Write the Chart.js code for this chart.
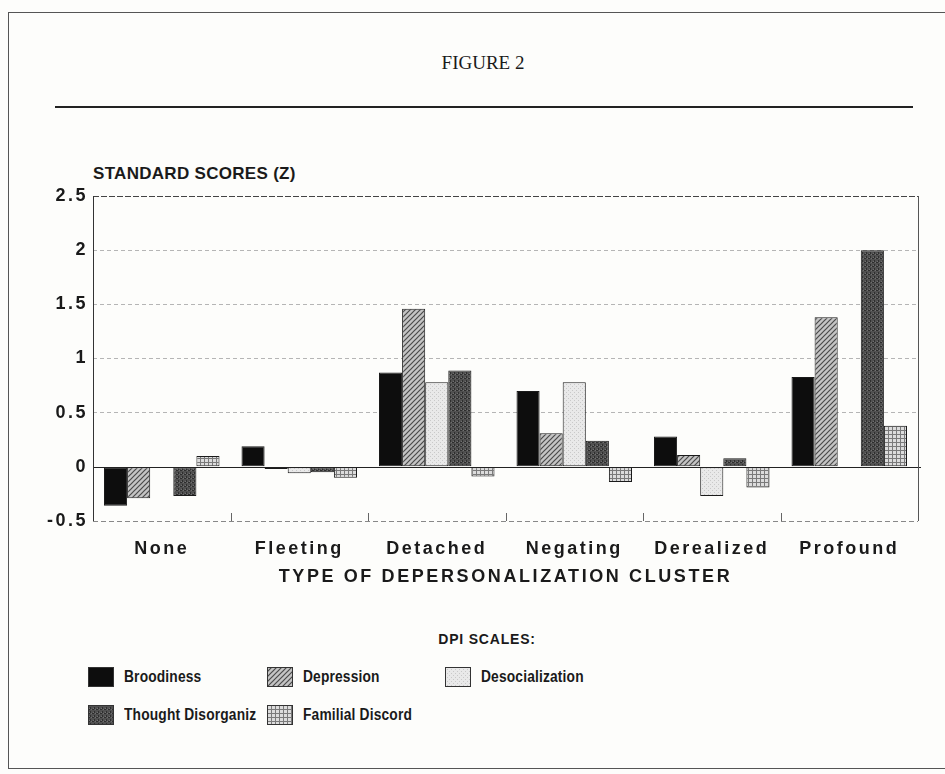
<!DOCTYPE html>
<html>
<head>
<meta charset="utf-8">
<script src="https://cdn.jsdelivr.net/npm/chart.js@4"></script>
<style>
  body { margin: 0; background: #fdfdfb; }
  #page { position: relative; width: 945px; height: 774px; overflow: hidden; font-family: "Liberation Sans", Arial, sans-serif; color: #1a1a1a; }
  .rule { position: absolute; background: #555; }
  #figTitle { position: absolute; top: 52px; left: 0; width: 966px; text-align: center; font-family: "Liberation Serif", "DejaVu Serif", serif; font-size: 19px; }
  #yTitle { position: absolute; top: 164px; left: 93px; font-size: 17px; font-weight: bold; letter-spacing: 0.3px; }
  #xTitle { position: absolute; top: 566px; left: 93px; width: 825px; text-align: center; font-size: 18px; font-weight: bold; letter-spacing: 2.6px; }
  #chartBox { position: absolute; left: 0; top: 150px; width: 945px; height: 450px; }
  #legTitle { position: absolute; top: 631px; left: 0; width: 974px; text-align: center; font-size: 14px; font-weight: bold; letter-spacing: 0.8px; }
  .leg { position: absolute; display: flex; align-items: center; font-size: 16px; font-weight: bold; letter-spacing: 0.2px; white-space: nowrap; }
  .leg canvas { width: 26px; height: 20px; margin-right: 10px; }
  .leg span { display: inline-block; transform: scaleX(0.86); transform-origin: left center; }
</style>
</head>
<body>
<div id="page">
  <div class="rule" style="left:8px; top:12px; width:940px; height:1px;"></div>
  <div class="rule" style="left:8px; top:12px; width:1px; height:757px;"></div>
  <div class="rule" style="left:8px; top:768px; width:940px; height:1px;"></div>
  <div id="figTitle">FIGURE 2</div>
  <div class="rule" style="left:55px; top:106px; width:858px; height:2px; background:#222;"></div>
  <div id="yTitle">STANDARD SCORES (Z)</div>
  <div id="chartBox"><canvas id="chart"></canvas></div>
  <div id="xTitle">TYPE OF DEPERSONALIZATION CLUSTER</div>
  <div id="legTitle">DPI SCALES:</div>
  <div id="legend"></div>
</div>
<script>
var clusters = ['None', 'Fleeting', 'Detached', 'Negating', 'Derealized', 'Profound'];
var scaleNames = ['Broodiness', 'Depression', 'Desocialization', 'Thought Disorganiz', 'Familial Discord'];

var broodiness      = [-0.36,  0.19, 0.87, 0.70,  0.28, 0.83];
var depression      = [-0.29, -0.02, 1.46, 0.31,  0.11, 1.38];
var desocialization = [ 0.00, -0.06, 0.78, 0.78, -0.27, 0.00];
var thoughtDisorg   = [-0.27, -0.05, 0.89, 0.24,  0.08, 2.00];
var familialDiscord = [ 0.10, -0.10, -0.09, -0.14, -0.19, 0.38];

var yTicks = [-0.5, 0, 0.5, 1, 1.5, 2, 2.5];

// little fill patterns to mimic the printed shadings
function makePattern(size, paint) {
  var c = document.createElement('canvas');
  c.width = size; c.height = size;
  var g = c.getContext('2d');
  paint(g, size);
  return g.createPattern(c, 'repeat');
}

var fills = [
  '#0d0d0d',
  makePattern(5, function (g, s) {
    g.fillStyle = '#c4c4c4'; g.fillRect(0, 0, s, s);
    g.strokeStyle = '#4a4a4a'; g.lineWidth = 1.2;
    g.beginPath(); g.moveTo(0, s); g.lineTo(s, 0); g.moveTo(-1, 1); g.lineTo(1, -1); g.moveTo(s - 1, s + 1); g.lineTo(s + 1, s - 1); g.stroke();
  }),
  makePattern(4, function (g, s) {
    g.fillStyle = '#e9e9e9'; g.fillRect(0, 0, s, s);
    g.fillStyle = '#c9c9c9'; g.fillRect(0, 0, 1, 1); g.fillRect(2, 2, 1, 1);
  }),
  makePattern(4, function (g, s) {
    g.fillStyle = '#505050'; g.fillRect(0, 0, s, s);
    g.fillStyle = '#2e2e2e'; g.fillRect(0, 0, 2, 1); g.fillRect(2, 2, 1, 2);
    g.fillStyle = '#707070'; g.fillRect(3, 0, 1, 1); g.fillRect(1, 3, 1, 1);
  }),
  makePattern(4, function (g, s) {
    g.fillStyle = '#dcdcdc'; g.fillRect(0, 0, s, s);
    g.fillStyle = '#7a7a7a'; g.fillRect(0, 0, s, 1); g.fillRect(0, 0, 1, s);
  })
];

var seriesData = [broodiness, depression, desocialization, thoughtDisorg, familialDiscord];

var datasets = scaleNames.map(function (name, i) {
  return {
    label: name,
    data: seriesData[i],
    backgroundColor: fills[i],
    borderColor: '#1a1a1a',
    borderWidth: 1,
    borderSkipped: false,
    categoryPercentage: 0.84,
    barPercentage: 1.0
  };
});

// frame, zero line and the little category ticks on the bottom axis
var framePlugin = {
  id: 'frame',
  beforeDraw: function (chart) {
    chart.ctx.letterSpacing = '2.5px';
  },
  afterDraw: function (chart) {
    var ctx = chart.ctx, a = chart.chartArea, x = chart.scales.x, y = chart.scales.y;
    ctx.save();
    ctx.letterSpacing = '0px';
    ctx.lineWidth = 1;
    // top line
    ctx.strokeStyle = '#444';
    ctx.setLineDash([6, 2]);
    ctx.beginPath(); ctx.moveTo(a.left, y.getPixelForValue(2.5) + 0.5); ctx.lineTo(a.right, y.getPixelForValue(2.5) + 0.5); ctx.stroke();
    // bottom line
    ctx.strokeStyle = '#888';
    ctx.setLineDash([5, 3]);
    ctx.beginPath(); ctx.moveTo(a.left, a.bottom + 0.5); ctx.lineTo(a.right, a.bottom + 0.5); ctx.stroke();
    ctx.setLineDash([]);
    // zero line
    ctx.strokeStyle = '#222';
    var z = Math.round(y.getPixelForValue(0)) + 0.5;
    ctx.beginPath(); ctx.moveTo(a.left, z); ctx.lineTo(a.right + 3, z); ctx.stroke();
    // left and right frame
    ctx.strokeStyle = '#333';
    ctx.beginPath(); ctx.moveTo(a.left + 0.5, a.top); ctx.lineTo(a.left + 0.5, a.bottom); ctx.stroke();
    ctx.strokeStyle = '#555';
    ctx.beginPath(); ctx.moveTo(a.right + 0.5, a.top); ctx.lineTo(a.right + 0.5, a.bottom); ctx.stroke();
    // category separators on bottom axis
    ctx.strokeStyle = '#666';
    for (var i = 0; i < clusters.length - 1; i++) {
      var px = Math.round((x.getPixelForValue(i) + x.getPixelForValue(i + 1)) / 2) + 0.5;
      ctx.beginPath(); ctx.moveTo(px, a.bottom - 8); ctx.lineTo(px, a.bottom); ctx.stroke();
    }
    ctx.restore();
  }
};

new Chart(document.getElementById('chart'), {
  type: 'bar',
  data: { labels: clusters, datasets: datasets },
  plugins: [framePlugin],
  options: {
    responsive: true,
    maintainAspectRatio: false,
    animation: false,
    layout: { padding: { left: 0, right: 27, top: 46, bottom: 0 } },
    plugins: {
      legend: { display: false },
      tooltip: { enabled: false }
    },
    scales: {
      x: {
        grid: { display: false, drawTicks: false },
        border: { display: false },
        ticks: {
          color: '#1a1a1a',
          padding: 17,
          maxRotation: 0,
          font: { family: 'Liberation Sans', size: 18, weight: 'bold' }
        },
        afterFit: function (s) { s.height = 79; }
      },
      y: {
        min: -0.5,
        max: 2.5,
        afterBuildTicks: function (s) { s.ticks = yTicks.map(function (v) { return { value: v }; }); },
        grid: {
          drawTicks: false,
          color: function (c) {
            var v = c.tick && c.tick.value;
            return (v === 0 || v === 2.5 || v === -0.5) ? 'rgba(0,0,0,0)' : '#b5b5b5';
          }
        },
        border: { display: false, dash: [4, 3] },
        ticks: {
          color: '#1a1a1a',
          padding: 5,
          font: { family: 'Liberation Sans', size: 18, weight: 'bold' },
          callback: function (v) { return String(v); }
        },
        afterFit: function (s) { s.width = 93; }
      }
    }
  }
});

// legend built from the same series names and fills
var legendPos = [[88, 667], [267, 667], [445, 667], [88, 705], [267, 705]];
var legend = document.getElementById('legend');
scaleNames.forEach(function (name, i) {
  var item = document.createElement('div');
  item.className = 'leg';
  item.style.left = legendPos[i][0] + 'px';
  item.style.top = legendPos[i][1] + 'px';
  var sw = document.createElement('canvas');
  sw.width = 26; sw.height = 20;
  var g = sw.getContext('2d');
  g.fillStyle = fills[i];
  g.fillRect(0, 0, 26, 20);
  g.strokeStyle = '#333';
  g.strokeRect(0.5, 0.5, 25, 19);
  item.appendChild(sw);
  var t = document.createElement('span');
  t.textContent = name;
  item.appendChild(t);
  legend.appendChild(item);
});
</script>
</body>
</html>
